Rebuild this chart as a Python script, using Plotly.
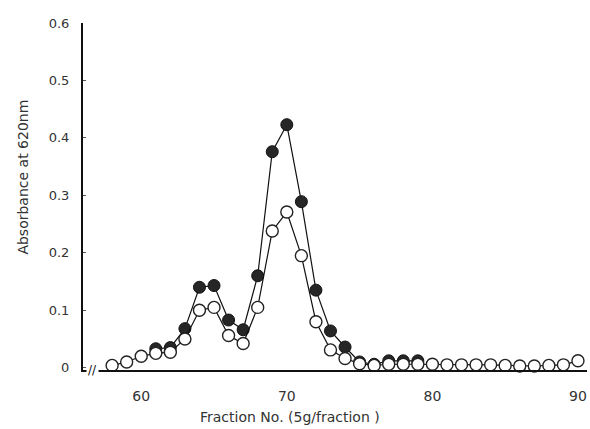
import plotly.graph_objects as go

# Fraction numbers
fractions_open = list(range(58, 91))
absorb_open = [0.004, 0.010, 0.020, 0.025, 0.027, 0.050, 0.100, 0.105, 0.056, 0.042,
               0.105, 0.238, 0.271, 0.195, 0.080, 0.031, 0.016, 0.007, 0.004, 0.006,
               0.006, 0.006, 0.006, 0.005, 0.005, 0.005, 0.005, 0.004, 0.003, 0.003,
               0.004, 0.005, 0.012]

fractions_filled = list(range(61, 80))
absorb_filled = [0.033, 0.035, 0.068, 0.140, 0.143, 0.083, 0.066, 0.160, 0.376, 0.423,
                 0.289, 0.135, 0.064, 0.036, 0.010, 0.006, 0.012, 0.012, 0.012]

x_ticks = [60, 70, 80, 90]
y_ticks = [0, 0.1, 0.2, 0.3, 0.4, 0.5, 0.6]
y_tick_text = ["0", "0.1", "0.2", "0.3", "0.4", "0.5", "0.6"]

FONT = "DejaVu Sans, Liberation Sans, Arial, sans-serif"
TXT = "#333"

fig = go.Figure()
fig.add_trace(go.Scatter(
    x=fractions_filled, y=absorb_filled, mode="lines+markers",
    line=dict(color="#111", width=1.2),
    marker=dict(symbol="circle", size=12, color="#262626",
                line=dict(color="#111", width=1)),
    showlegend=False, cliponaxis=False))
fig.add_trace(go.Scatter(
    x=fractions_open, y=absorb_open, mode="lines+markers",
    line=dict(color="#111", width=1.2),
    marker=dict(symbol="circle", size=12, color="white",
                line=dict(color="#222", width=1.4)),
    showlegend=False, cliponaxis=False))

fig.update_layout(
    width=590, height=429,
    margin=dict(l=83, r=3, t=23, b=59),
    paper_bgcolor="white", plot_bgcolor="white",
    font=dict(family=FONT, size=12, color=TXT),
)
fig.update_xaxes(
    range=[56.0, 90.62], showgrid=False, zeroline=False,
    showline=True, linecolor="#111", linewidth=1.6,
    tickmode="array", tickvals=x_ticks, ticks="",
    ticklabelstandoff=12,
    tickfont=dict(family=FONT, size=14, color=TXT),
)
fig.update_yaxes(
    range=[-0.004, 0.6], showgrid=False, zeroline=False,
    showline=True, linecolor="#111", linewidth=2,
    tickmode="array", tickvals=y_ticks, ticktext=y_tick_text,
    ticks="inside", ticklen=3, tickcolor="#555",
    ticklabelstandoff=9,
    tickfont=dict(family=FONT, size=13, color=TXT),
)
# axis titles
fig.add_annotation(x=0.41, y=-0.135, xref="paper", yref="paper",
                   text="Fraction No. (5g/fraction )", showarrow=False,
                   font=dict(family=FONT, size=14, color=TXT),
                   xanchor="center", yanchor="middle")
fig.add_annotation(x=-0.118, y=0.556, xref="paper", yref="paper",
                   text="Absorbance at 620nm", showarrow=False, textangle=-90,
                   font=dict(family=FONT, size=14, color=TXT),
                   xanchor="center", yanchor="middle")
# axis break mark
fig.add_annotation(x=0.018, y=0, xref="paper", yref="paper",
                   text="//", showarrow=False, bgcolor="white",
                   font=dict(family=FONT, size=12, color="#111"),
                   xanchor="center", yanchor="middle")

fig.write_html(
    "out.html",
    config={"displayModeBar": False},
    post_script="document.body.style.margin='0px';document.body.style.overflow='hidden';",
)
